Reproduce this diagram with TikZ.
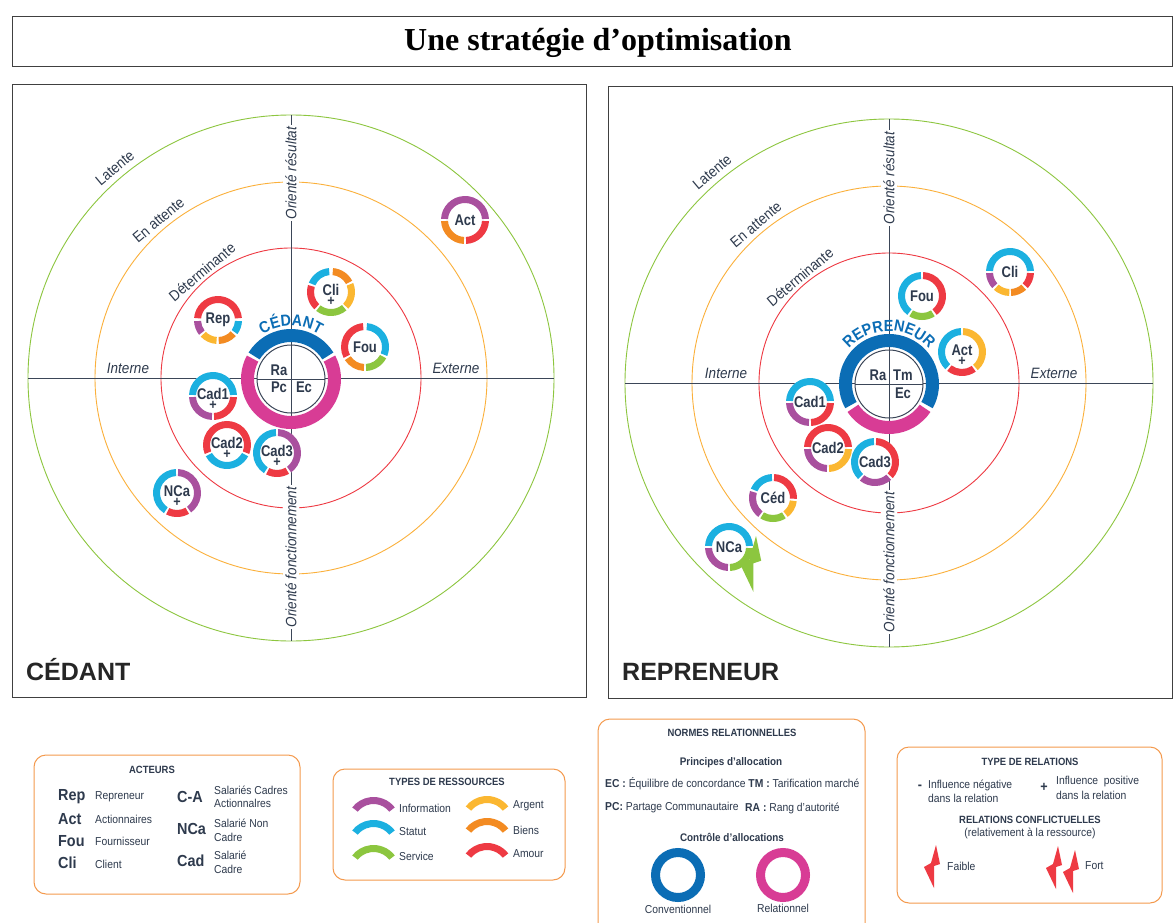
\documentclass[tikz,border=0pt]{standalone}
\usepackage{fontspec}
\setmainfont{Liberation Sans}[FakeStretch=0.9]
\newfontfamily\widefont{Liberation Sans}
\newfontfamily\titlefont{Liberation Serif}
\newfontfamily\condfont{Liberation Sans}[FakeStretch=0.84]
\usetikzlibrary{calc,decorations.text}

\definecolor{cInfo}{HTML}{A9509E}
\definecolor{cStat}{HTML}{1BB0E0}
\definecolor{cServ}{HTML}{8CC63F}
\definecolor{cArg}{HTML}{FBB731}
\definecolor{cBien}{HTML}{F38B22}
\definecolor{cAmour}{HTML}{EE3A43}
\definecolor{cConv}{HTML}{0B6DB5}
\definecolor{cRel}{HTML}{D83C95}
\definecolor{ink}{HTML}{2E3A4D}
\definecolor{axiscol}{HTML}{3B4658}
\definecolor{boxor}{HTML}{F49A4E}
\definecolor{lgreen}{HTML}{8DC63F}
\definecolor{lorange}{HTML}{FBB03B}
\definecolor{lred}{HTML}{EE3A43}

\newcommand\fsz[1]{\fontsize{#1}{#1}\selectfont}

% actor ring: name, x, y, label, plus flag, segments
\newcommand\actor[6]{%
 \begin{scope}[shift={(#2,-#3)}]
  \fill[white] (0,0) circle[radius=24];
  \foreach \segA/\segB/\segC in {#6}{%
   \fill[\segC] (\segA:24) arc[start angle=\segA,end angle=\segB,radius=24]
     -- (\segB:17) arc[start angle=\segB,end angle=\segA,radius=17] -- cycle;}
  \ifnum#5=1
   \node[actlab] (#1) at (0,2) {#4};
   \node[pluslab] (#1p) at (0,-9.5) {+};
  \else
   \node[actlab] (#1) at (0,0) {#4};
  \fi
 \end{scope}}

% panel background: prefix, cx, cy, r1, r2, r3
\newcommand\panelbg[6]{%
 \begin{scope}[shift={(#2,-#3)}]
  \draw[lred,line width=0.9pt] (0,0) circle[radius=#4];
  \draw[lorange,line width=0.9pt] (0,0) circle[radius=#5];
  \draw[lgreen,line width=0.9pt] (0,0) circle[radius=#6];
  \coordinate (#1W) at (-#6,0);
  \coordinate (#1E) at (#6,0);
  \coordinate (#1N) at (0,#6);
  \coordinate (#1S) at (0,-#6);
  \draw[axisline] (#1W) -- (#1E);
  \draw[axisline] (#1N) -- (#1S);
  \node[axlab,rotate=90] (#1res) at (0,205) {Orienté résultat};
  \node[axlab,rotate=90] (#1fon) at (0,-179) {Orienté fonctionnement};
  \node[axlab,fill=none,anchor=south] (#1int) at (-163,2) {Interne};
  \node[axlab,fill=none,anchor=south] (#1ext) at (165,2) {Externe};
  \node[arclab,rotate=40,anchor=base] (#1lat) at (130:#6+6) {Latente};
  \node[arclab,rotate=40,anchor=base] (#1att) at (130:#5+5) {En attente};
  \node[arclab,rotate=40,anchor=base] (#1det) at (130:#4+3) {Déterminante};
 \end{scope}}

\tikzset{
 pics/bolt/.style={code={\fill[#1] (0,0) -- (4,-19) -- (-2,-21) -- (-2,-43) -- (-12,-22) -- (-5,-18) -- cycle;}},
 pics/resarc/.style={code={\fill[#1] (38:27) arc[start angle=38,end angle=142,radius=27] -- (142:20) arc[start angle=142,end angle=38,radius=20] -- cycle;}}
}

\begin{document}
\begin{tikzpicture}[x=1pt,y=1pt,
 actlab/.style={font=\condfont\fsz{15.5}\bfseries,text=ink,inner sep=0pt},
 pluslab/.style={font=\fsz{14}\bfseries,text=ink,inner sep=0pt},
 inlab/.style={font=\condfont\fsz{15.5}\bfseries,text=ink,inner sep=0pt},
 axisline/.style={draw=axiscol,line width=1pt},
 axlab/.style={font=\fsz{15}\itshape,text=ink,fill=white,inner sep=2pt},
 arclab/.style={font=\fsz{15},text=ink,inner sep=0pt},
 legbox/.style={draw=boxor,line width=1pt,rounded corners=12pt},
 legtitle/.style={font=\fsz{10.5}\bfseries,text=ink,inner sep=0pt},
 legtxt/.style={font=\fsz{11.5},text=ink,inner sep=0pt,anchor=west},
 legbig/.style={font=\fsz{16}\bfseries,text=ink,inner sep=0pt,anchor=west},
 panel/.style={draw=black!75,line width=1pt},
]
\useasboundingbox (0,0) rectangle (1173,-923);
\fill[white] (0,0) rectangle (1173,-923);

% title
\draw[panel] (12,-17) rectangle (1172,-67);
\node[font=\titlefont\bfseries\fsz{32},inner sep=0pt] (title) at (598,-43) {Une stratégie d’optimisation};

% panels
\draw[panel] (12,-85) rectangle (586,-697);
\draw[panel] (608,-87) rectangle (1172,-698);
\node[font=\widefont\bfseries\fsz{25},text=black!85,anchor=west,inner sep=0pt] (pL) at (26,-670) {CÉDANT};
\node[font=\widefont\bfseries\fsz{25},text=black!85,anchor=west,inner sep=0pt] (pR) at (622,-672) {REPRENEUR};

\panelbg{L}{291}{378}{130}{196}{263}
\panelbg{R}{889}{383}{130}{197}{264}

% central ring CEDANT
\begin{scope}[shift={(291,-379)}]
 \fill[cConv] (32:50) arc[start angle=32,end angle=148,radius=50] -- (148:37) arc[start angle=148,end angle=32,radius=37] -- cycle;
 \fill[cRel] (152:50) arc[start angle=152,end angle=388,radius=50] -- (388:37) arc[start angle=388,end angle=152,radius=37] -- cycle;
 \draw[draw=axiscol,line width=1pt,fill=white] (0,0) circle[radius=34];
 \coordinate (cL1) at (-34,0); \coordinate (cL2) at (34,0);
 \coordinate (cL3) at (0,34); \coordinate (cL4) at (0,-34);
 \draw[axisline] (cL1) -- (cL2) (cL3) -- (cL4);
 \node[inlab] (raL) at (-12,9) {Ra};
 \node[inlab] (pcL) at (-12,-8) {Pc};
 \node[inlab] (ecL) at (13,-8) {Ec};
 \path[decorate,decoration={text along path,text align=center,text color=cConv,text={|\fsz{16}\bfseries|CÉDANT}}] (126:53) arc[start angle=126,end angle=54,radius=53];
\end{scope}

% central ring REPRENEUR
\begin{scope}[shift={(889,-384)}]
 \fill[cConv] (-29:50) arc[start angle=-29,end angle=209,radius=50] -- (209:37) arc[start angle=209,end angle=-29,radius=37] -- cycle;
 \fill[cRel] (214:50) arc[start angle=214,end angle=326,radius=50] -- (326:37) arc[start angle=326,end angle=214,radius=37] -- cycle;
 \draw[draw=axiscol,line width=1pt,fill=white] (0,0) circle[radius=34];
 \coordinate (cR1) at (-34,0); \coordinate (cR2) at (34,0);
 \coordinate (cR3) at (0,34); \coordinate (cR4) at (0,-34);
 \draw[axisline] (cR1) -- (cR2) (cR3) -- (cR4);
 \node[inlab] (raR) at (-11,9) {Ra};
 \node[inlab] (tmR) at (14,9) {Tm};
 \node[inlab] (ecR) at (14,-9) {Ec};
 \path[decorate,decoration={text along path,text align=center,text color=cConv,text={|\fsz{16}\bfseries|REPRENEUR}}] (138:53) arc[start angle=138,end angle=42,radius=53];
\end{scope}

% actors left
\actor{rep1}{218}{320}{Rep}{0}{5/175/cAmour,183/218/cInfo,224/266/cArg,272/318/cBien,324/357/cStat}
\actor{cli1}{331}{292}{Cli}{1}{95/157/cStat,163/226/cAmour,232/310/cServ,316/382/cArg,28/85/cBien}
\actor{fou1}{365}{347}{Fou}{0}{95/207/cAmour,213/267/cBien,273/332/cServ,-22/85/cStat}
\actor{act1}{465}{220}{Act}{0}{3/177/cInfo,183/267/cBien,273/357/cAmour}
\actor{cadA1}{213}{396}{Cad1}{1}{3/177/cStat,183/267/cInfo,273/357/cAmour}
\actor{cadB1}{227}{445}{Cad2}{1}{-22/202/cAmour,208/332/cStat}
\actor{cadC1}{277}{453}{Cad3}{1}{93/237/cStat,243/300/cAmour,306/447/cInfo}
\actor{nca1}{177}{493}{NCa}{1}{93/237/cStat,243/300/cAmour,306/447/cInfo}

% actors right
\actor{fou2}{922}{296}{Fou}{0}{93/232/cStat,238/302/cServ,308/447/cAmour}
\actor{cli2}{1010}{272}{Cli}{0}{3/177/cStat,183/222/cInfo,228/268/cArg,273/312/cBien,318/357/cAmour}
\actor{act2}{962}{352}{Act}{1}{93/226/cStat,232/305/cAmour,311/447/cArg}
\actor{cadA2}{810}{402}{Cad1}{0}{3/177/cStat,183/267/cInfo,273/357/cAmour}
\actor{cadB2}{828}{448}{Cad2}{0}{3/177/cAmour,183/267/cInfo,273/357/cArg}
\actor{cadC2}{875}{462}{Cad3}{0}{93/225/cStat,231/312/cInfo,318/447/cAmour}
\actor{ced2}{773}{498}{Céd}{0}{93/157/cStat,163/232/cInfo,238/302/cServ,308/352/cArg,358/447/cAmour}
\actor{nca2}{729}{547}{NCa}{0}{3/177/cStat,183/267/cInfo,273/357/cServ}
\pic[scale=1.3] (boltN) at (756,-536) {bolt=cServ};

% legend ACTEURS
\draw[legbox] (34,-755) rectangle (300,-894);
\node[legtitle] (tAct) at (152,-770) {ACTEURS};
\node[legbig] (kRep) at (58,-797) {Rep};
\node[legtxt] (vRep) at (95,-797) {Repreneur};
\node[legbig] (kAct) at (58,-819) {Act};
\node[legtxt] (vAct) at (95,-819) {Actionnaires};
\node[legbig] (kFou) at (58,-841) {Fou};
\node[legtxt] (vFou) at (95,-841) {Fournisseur};
\node[legbig] (kCli) at (58,-863) {Cli};
\node[legtxt] (vCli) at (95,-864) {Client};
\node[legbig] (kCA) at (177,-797) {C-A};
\node[legtxt] (vCA1) at (214,-790) {Salariés Cadres};
\node[legtxt] (vCA2) at (214,-803) {Actionnalres};
\node[legbig] (kNCa) at (177,-829) {NCa};
\node[legtxt] (vNCa1) at (214,-823) {Salarié Non};
\node[legtxt] (vNCa2) at (214,-837) {Cadre};
\node[legbig] (kCad) at (177,-861) {Cad};
\node[legtxt] (vCad1) at (214,-855) {Salarié};
\node[legtxt] (vCad2) at (214,-869) {Cadre};

% legend RESSOURCES
\draw[legbox] (333,-769) rectangle (565,-880);
\node[legtitle] (tRes) at (447,-782) {TYPES DE RESSOURCES};
\pic (aInfo) at (373.5,-824) {resarc=cInfo};
\pic (aStat) at (373.5,-847) {resarc=cStat};
\pic (aServ) at (373.5,-872) {resarc=cServ};
\pic (aArg) at (487,-823) {resarc=cArg};
\pic (aBien) at (487,-845) {resarc=cBien};
\pic (aAmour) at (487,-870) {resarc=cAmour};
\node[legtxt] (rInfo) at (399,-808) {Information};
\node[legtxt] (rStat) at (399,-832) {Statut};
\node[legtxt] (rServ) at (399,-856) {Service};
\node[legtxt] (rArg) at (513,-806) {Argent};
\node[legtxt] (rBien) at (513,-830) {Biens};
\node[legtxt] (rAmour) at (513,-854) {Amour};

% legend NORMES
\draw[legbox] (598,-719) rectangle (865,-950);
\node[legtitle] (tNor) at (732,-733) {NORMES RELATIONNELLES};
\node[legtitle,font=\fsz{11}\bfseries] (tPri) at (731,-763) {Principes d’allocation};
\node[legtxt] (nEC) at (605,-784) {\textbf{EC :} Équilibre de concordance \textbf{TM :} Tarification marché};
\node[legtxt] (nPC) at (605,-808) {\textbf{PC:} Partage Communautaire};
\node[legtxt] (nRA) at (745,-808) {\textbf{RA :} Rang d’autorité};
\node[legtitle,font=\fsz{11}\bfseries] (tCon) at (732,-837) {Contrôle d’allocations};
\draw[cConv,line width=9pt] (678,-875) circle[radius=22.5];
\draw[cRel,line width=9pt] (783,-875) circle[radius=22.5];
\node[legtxt,anchor=center] (nConv) at (678,-909) {Conventionnel};
\node[legtxt,anchor=center] (nRel) at (783,-908) {Relationnel};

% legend RELATIONS
\draw[legbox] (897,-747) rectangle (1162,-903);
\node[legtitle] (tRel) at (1030,-762) {TYPE DE RELATIONS};
\node[font=\fsz{14}\bfseries,text=ink,inner sep=0pt] (mNeg) at (920,-787) {-};
\node[legtxt] (tNeg1) at (928,-785) {Influence négative};
\node[legtxt] (tNeg2) at (928,-798) {dans la relation};
\node[font=\fsz{14}\bfseries,text=ink,inner sep=0pt] (mPos) at (1044,-787) {+};
\node[legtxt] (tPos1) at (1056,-782) {Influence\ \ positive};
\node[legtxt] (tPos2) at (1056,-795) {dans la relation};
\node[legtitle] (tConf) at (1030,-820) {RELATIONS CONFLICTUELLES};
\node[legtxt,anchor=center] (tConf2) at (1030,-833) {(relativement à la ressource)};
\pic (bF) at (936,-845) {bolt=cAmour};
\node[legtxt] (tFaible) at (947,-866) {Faible};
\pic (bS1) at (1058,-846) {bolt=cAmour};
\pic (bS2) at (1075,-850) {bolt=cAmour};
\node[legtxt] (tFort) at (1085,-866) {Fort};
\end{tikzpicture}
\end{document}
